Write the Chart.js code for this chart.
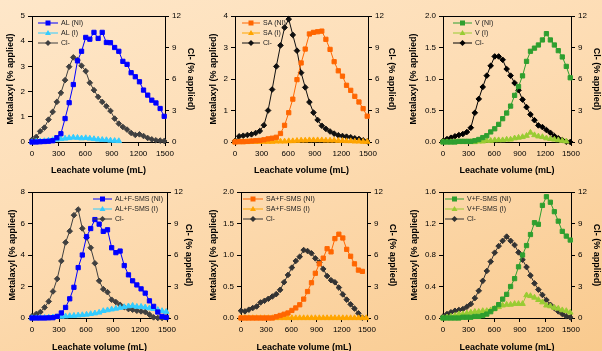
<!DOCTYPE html>
<html>
<head>
<meta charset="utf-8">
<script src="https://cdn.jsdelivr.net/npm/chart.js@4.4.0/dist/chart.umd.min.js"></script>
<style>
  html, body { margin: 0; padding: 0; }
  body {
    width: 602px; height: 351px; overflow: hidden; position: relative;
    background: linear-gradient(160deg, #fee7c9 0%, #fddcb3 45%, #f9ca8e 100%);
  }
  canvas { position: absolute; }
</style>
</head>
<body>
<canvas id="p1" width="200" height="175" style="left:0;top:0"></canvas>
<canvas id="p2" width="200" height="175" style="left:200px;top:0"></canvas>
<canvas id="p3" width="202" height="175" style="left:400px;top:0"></canvas>
<canvas id="p4" width="200" height="176" style="left:0;top:175px"></canvas>
<canvas id="p5" width="200" height="176" style="left:200px;top:175px"></canvas>
<canvas id="p6" width="202" height="176" style="left:400px;top:175px"></canvas>
<script>
// Leachate fractions (mL) shared by all six panels
const volumes = [0, 47, 93, 140, 186, 233, 280, 326, 373, 419, 466, 513, 559, 606, 652, 699, 746,
  792, 839, 885, 932, 979, 1025, 1072, 1118, 1165, 1212, 1258, 1305, 1351, 1398, 1445, 1491];
const volumeTicks = ['0', '300', '600', '900', '1200', '1500'];
const chlorideTicks = ['0', '3', '6', '9', '12'];

// AL
const alTicks = ['0', '1', '2', '3', '4', '5'];
const alNI = [0, 0, 0.01, 0.02, 0.03, 0.05, 0.17, 0.33, 0.93, 1.56, 2.28, 3.22, 3.6, 4.15, 4.08, 4.35, 4.11,
  4.35, 3.95, 3.94, 3.75, 3.6, 3.2, 3.08, 2.75, 2.59, 2.39, 2.06, 1.86, 1.66, 1.55, 1.33, 1.02];
const alI = [0, 0.02, 0.03, 0.04, 0.06, 0.08, 0.1, 0.12, 0.14, 0.16, 0.18, 0.17, 0.15, 0.16, 0.14, 0.12,
  0.1, 0.09, 0.08, 0.06, 0.05, 0.04];
const alCl = [0.22, 0.48, 1.02, 1.37, 2.13, 2.87, 3.82, 4.68, 5.89, 7.17, 8.06, 7.8, 7.26, 6.75, 5.64, 4.94,
  4.3, 3.82, 3.41, 2.96, 2.23, 1.75, 1.43, 1.18, 0.86, 0.67, 0.73, 0.57, 0.38, 0.25, 0.16, 0.13, 0.1];

// SA
const saTicks = ['0', '1', '2', '3', '4'];
const saNI = [0, 0.01, 0.01, 0.02, 0.03, 0.04, 0.05, 0.07, 0.1, 0.12, 0.15, 0.27, 0.53, 0.93, 1.36, 1.98,
  2.51, 2.95, 3.43, 3.48, 3.5, 3.52, 3.26, 2.94, 2.55, 2.26, 2.09, 1.8, 1.64, 1.45, 1.27, 1.06, 0.82];
const saI = [0, 0, 0, 0, 0.01, 0.01, 0.01, 0.01, 0.01, 0.01, 0.02, 0.02, 0.02, 0.03, 0.03, 0.04, 0.05,
  0.05, 0.06, 0.06, 0.06, 0.06, 0.05, 0.05, 0.05, 0.04, 0.04, 0.03, 0.03, 0.02, 0.02, 0.01, 0.01];
const saCl = [0.1, 0.54, 0.6, 0.67, 0.73, 0.86, 1.05, 1.6, 3.0, 5.0, 7.2, 9.2, 10.9, 11.7, 10.2, 8.7, 6.6,
  5.2, 3.8, 2.8, 2.1, 1.55, 1.25, 1.0, 0.8, 0.64, 0.57, 0.51, 0.45, 0.35, 0.29, 0.16, 0.06];

// V
const vTicks = ['0.0', '0.5', '1.0', '1.5', '2.0'];
const vNI = [0, 0, 0, 0, 0.01, 0.01, 0.01, 0.01, 0.02, 0.04, 0.07, 0.1, 0.16, 0.21, 0.28, 0.37, 0.46,
  0.57, 0.74, 0.88, 1.05, 1.28, 1.44, 1.49, 1.54, 1.62, 1.72, 1.62, 1.54, 1.45, 1.35, 1.2, 1.02];
const vI = [0, 0, 0, 0, 0, 0, 0, 0, 0, 0.01, 0.01, 0.02, 0.02, 0.03, 0.03, 0.03, 0.04, 0.04, 0.06, 0.07,
  0.08, 0.1, 0.15, 0.11, 0.09, 0.08, 0.06, 0.05, 0.04, 0.03, 0.02, 0.01];
const vCl = [0.09, 0.28, 0.41, 0.54, 0.66, 0.76, 0.95, 1.36, 2.78, 4.1, 5.24, 6.32, 7.26, 8.15, 8.15, 7.83,
  6.95, 6.32, 5.62, 4.93, 4.04, 3.32, 2.62, 2.08, 1.58, 1.42, 1.14, 0.88, 0.57, 0.35, 0.19, 0.03, 0];

// AL + F-SMS
const alfTicks = ['0', '2', '4', '6', '8'];
const alfNI = [0, 0, 0, 0, 0.01, 0.02, 0.1, 0.32, 0.67, 1.22, 1.95, 3.2, 4.0, 5.16, 5.68, 6.25, 5.96,
  5.5, 5.6, 4.46, 4.15, 4.25, 3.33, 2.74, 2.36, 2.1, 1.85, 1.58, 1.09, 0.74, 0.38, 0.1, 0.04];
const alfI = [0, 0, 0.01, 0.02, 0.03, 0.05, 0.07, 0.09, 0.11, 0.13, 0.15, 0.17, 0.19, 0.22, 0.26, 0.3,
  0.35, 0.45, 0.5, 0.55, 0.6, 0.65, 0.7, 0.75, 0.78, 0.72, 0.72, 0.68, 0.62, 0.58, 0.52, 0.45, 0.4];
const alfCl = [0.16, 0.38, 0.57, 1.01, 1.58, 2.53, 3.73, 5.43, 7.2, 8.27, 9.79, 10.33, 8.53, 7.67, 6.69,
  5.21, 3.54, 2.75, 2.46, 1.74, 1.52, 1.26, 1.04, 0.85, 0.79, 0.69, 0.63, 0.57, 0.32, 0.06, 0, 0, 0.06];

// SA + F-SMS
const safTicks = ['0.0', '0.5', '1.0', '1.5', '2.0'];
const safNI = [0, 0, 0, 0, 0, 0, 0, 0, 0, 0.02, 0.04, 0.06, 0.08, 0.12, 0.16, 0.21, 0.3, 0.42, 0.56,
  0.71, 0.86, 0.95, 1.1, 1.05, 1.26, 1.33, 1.27, 1.09, 0.98, 0.86, 0.76, 0.74];
const safI = [0, 0, 0, 0, 0, 0, 0, 0, 0, 0, 0, 0, 0, 0, 0, 0, 0, 0, 0, 0, 0, 0, 0, 0, 0, 0, 0, 0, 0, 0,
  0, 0, 0];
const safCl = [0.69, 0.63, 0.79, 0.95, 1.1, 1.48, 1.64, 1.83, 2.05, 2.27, 2.68, 3.41, 4.1, 4.8, 5.43,
  5.84, 6.47, 6.38, 6.16, 5.68, 5.3, 4.67, 4.0, 3.6, 3.4, 2.9, 2.25, 1.75, 1.3, 0.9, 0.45, 0.03];

// V + F-SMS
const vfTicks = ['0.0', '0.4', '0.8', '1.2', '1.6'];
const vfNI = [0, 0, 0, 0, 0, 0.01, 0.01, 0.01, 0.02, 0.02, 0.03, 0.05, 0.08, 0.12, 0.17, 0.24, 0.3, 0.4,
  0.5, 0.65, 0.8, 0.92, 1.06, 1.21, 1.19, 1.43, 1.54, 1.47, 1.35, 1.23, 1.1, 1.04, 0.99];
const vfI = [0, 0.01, 0.02, 0.03, 0.05, 0.05, 0.06, 0.07, 0.08, 0.08, 0.09, 0.09, 0.1, 0.12, 0.14, 0.16,
  0.17, 0.17, 0.18, 0.18, 0.18, 0.29, 0.28, 0.26, 0.23, 0.2, 0.16, 0.15, 0.13, 0.12, 0.1, 0.09, 0.07];
const vfCl = [0.13, 0.38, 0.54, 0.69, 0.76, 0.85, 1.07, 1.33, 1.89, 2.59, 3.54, 4.48, 5.37, 6.22, 6.85,
  7.35, 7.75, 7.35, 6.95, 6.25, 5.55, 4.85, 4.05, 3.3, 2.7, 2.2, 1.71, 1.26, 0.95, 0.63, 0.38, 0.16, 0.06];

Chart.defaults.font.family = '"Liberation Sans", Arial, sans-serif';
Chart.defaults.color = '#000';

// legend drawn inside the plot, Excel style
const insideLegend = {
  id: 'insideLegend',
  afterDraw(chart, args, opts) {
    const ctx = chart.ctx;
    ctx.save();
    ctx.font = '7px "Liberation Sans", Arial, sans-serif';
    ctx.textBaseline = 'middle';
    chart.data.datasets.forEach((ds, i) => {
      const y = opts.y + i * 10;
      ctx.strokeStyle = ds.borderColor;
      ctx.lineWidth = 1;
      ctx.beginPath();
      ctx.moveTo(opts.x, y);
      ctx.lineTo(opts.x + opts.len, y);
      ctx.stroke();
      drawMarker(ctx, ds.pointStyle, opts.x + opts.len / 2, y, ds.borderColor);
      ctx.fillStyle = '#222';
      ctx.fillText(ds.label, opts.x + opts.len + 3, y);
    });
    ctx.restore();
  }
};

function drawMarker(ctx, style, x, y, color) {
  ctx.fillStyle = color;
  ctx.beginPath();
  if (style === 'rect') {
    ctx.rect(x - 2.5, y - 2.5, 5, 5);
  } else if (style === 'triangle') {
    ctx.moveTo(x, y - 3);
    ctx.lineTo(x + 3, y + 2);
    ctx.lineTo(x - 3, y + 2);
    ctx.closePath();
  } else {
    ctx.moveTo(x, y - 3);
    ctx.lineTo(x + 3, y);
    ctx.lineTo(x, y + 3);
    ctx.lineTo(x - 3, y);
    ctx.closePath();
  }
  ctx.fill();
}

// top edge of the plot box
const frameTop = {
  id: 'frameTop',
  afterDraw(chart) {
    const { ctx, chartArea } = chart;
    ctx.save();
    ctx.strokeStyle = '#000';
    ctx.lineWidth = 1;
    ctx.beginPath();
    ctx.moveTo(chartArea.left, chartArea.top + 0.5);
    ctx.lineTo(chartArea.right, chartArea.top + 0.5);
    ctx.stroke();
    ctx.restore();
  }
};

function toPoints(values) {
  return values.map((y, i) => ({ x: volumes[i], y }));
}

function series(label, values, color, style, axis) {
  const radius = style === 'rect' ? 3 : (style === 'triangle' ? 3.2 : 2.8);
  return {
    label,
    data: toPoints(values),
    yAxisID: axis,
    borderColor: color,
    backgroundColor: color,
    pointBackgroundColor: color,
    pointBorderColor: color,
    pointStyle: style,
    pointRadius: radius,
    pointBorderWidth: 1,
    borderWidth: 1,
    tension: 0,
    clip: false
  };
}

function tickLabel(labels) {
  return (value) => {
    const hit = labels.find((l) => Number(l) === value);
    return hit === undefined ? '' : hit;
  };
}

function valueAxis(labels, position, title, width, titlePad) {
  return {
    type: 'linear',
    position,
    min: Number(labels[0]),
    max: Number(labels[labels.length - 1]),
    afterBuildTicks: (scale) => { scale.ticks = labels.map((l) => ({ value: Number(l) })); },
    afterFit: (scale) => { scale.width = width; },
    ticks: { callback: tickLabel(labels), font: { size: 8 }, color: '#000', padding: 3 },
    grid: { drawOnChartArea: false, tickLength: 4, color: '#000' },
    border: { color: '#000', width: 1 },
    title: {
      display: true, text: title, color: '#000',
      font: { size: 9, weight: 'bold' },
      padding: { top: titlePad, bottom: 0 }
    }
  };
}

function volumeAxis(titlePad) {
  return {
    type: 'linear',
    min: 0,
    max: 1500,
    afterBuildTicks: (scale) => { scale.ticks = volumeTicks.map((l) => ({ value: Number(l) })); },
    afterFit: (scale) => { scale.height = 33; },
    ticks: { callback: tickLabel(volumeTicks), font: { size: 8 }, color: '#000', padding: 3, maxRotation: 0, autoSkip: false },
    grid: { drawOnChartArea: false, tickLength: 4, color: '#000' },
    border: { color: '#000', width: 1 },
    title: {
      display: true, text: 'Leachate volume (mL)', color: '#000',
      font: { size: 9, weight: 'bold' },
      padding: { top: 0, bottom: titlePad }
    }
  };
}

function renderPanel(p) {
  const ctx = document.getElementById(p.id);
  return new Chart(ctx, {
    type: 'line',
    data: {
      datasets: [
        series(p.names[0], p.ni, p.colors[0], 'rect', 'y'),
        series(p.names[1], p.i, p.colors[1], 'triangle', 'y'),
        series('Cl-', p.cl, p.colors[2], 'rectRot', 'y1')
      ]
    },
    options: {
      responsive: false,
      animation: false,
      layout: { padding: { top: p.top, left: 0, right: 0, bottom: 0 } },
      plugins: {
        legend: { display: false },
        tooltip: { enabled: false },
        insideLegend: p.legend
      },
      scales: {
        x: volumeAxis(p.xPad),
        y: valueAxis(p.ticks, 'left', 'Metalaxyl (% applied)', p.leftW, p.leftPad),
        y1: valueAxis(chlorideTicks, 'right', 'Cl- (% applied)', p.rightW, p.rightPad)
      }
    },
    plugins: [insideLegend, frameTop]
  });
}

const blueSet = ['#0000ff', '#33ccff', '#404040'];
const orangeSet = ['#ff6600', '#ffa500', '#111111'];
const greenSet = ['#2f9f2f', '#99cc33', '#000000'];

[
  { id: 'p1', names: ['AL (NI)', 'AL (I)'], ni: alNI, i: alI, cl: alCl, ticks: alTicks, colors: blueSet,
    top: 16, leftW: 32, rightW: 35, leftPad: 5.6, rightPad: 4.6, xPad: -1, legend: { x: 38, y: 23, len: 20 } },
  { id: 'p2', names: ['SA (NI)', 'SA (I)'], ni: saNI, i: saI, cl: saCl, ticks: saTicks, colors: orangeSet,
    top: 16, leftW: 35, rightW: 32, leftPad: 8.6, rightPad: 2.9, xPad: -1, legend: { x: 42, y: 23, len: 18 } },
  { id: 'p3', names: ['V (NI)', 'V (I)'], ni: vNI, i: vI, cl: vCl, ticks: vTicks, colors: greenSet,
    top: 16, leftW: 43, rightW: 31, leftPad: 8.6, rightPad: 0, xPad: -1, legend: { x: 53, y: 23, len: 19 } },
  { id: 'p4', names: ['AL+F-SMS (NI)', 'AL+F-SMS (I)'], ni: alfNI, i: alfI, cl: alfCl, ticks: alfTicks,
    colors: ['#0000ff', '#33ccff', '#404040'],
    top: 17, leftW: 32, rightW: 33, leftPad: 6.9, rightPad: 6.6, xPad: -1.5, legend: { x: 93, y: 24, len: 19 } },
  { id: 'p5', names: ['SA+F-SMS (NI)', 'SA+F-SMS (I)'], ni: safNI, i: safI, cl: safCl, ticks: safTicks,
    colors: ['#ff6600', '#ffa500', '#333333'],
    top: 17, leftW: 41, rightW: 33, leftPad: 8.6, rightPad: 2.6, xPad: -1.5, legend: { x: 43, y: 24, len: 20 } },
  { id: 'p6', names: ['V+F-SMS (NI)', 'V+F-SMS (I)'], ni: vfNI, i: vfI, cl: vfCl, ticks: vfTicks,
    colors: ['#2f9f2f', '#99cc33', '#333333'],
    top: 17, leftW: 43, rightW: 31, leftPad: 9.6, rightPad: 0, xPad: -1.5, legend: { x: 45, y: 24, len: 19 } }
].forEach(renderPanel);
</script>
</body>
</html>
